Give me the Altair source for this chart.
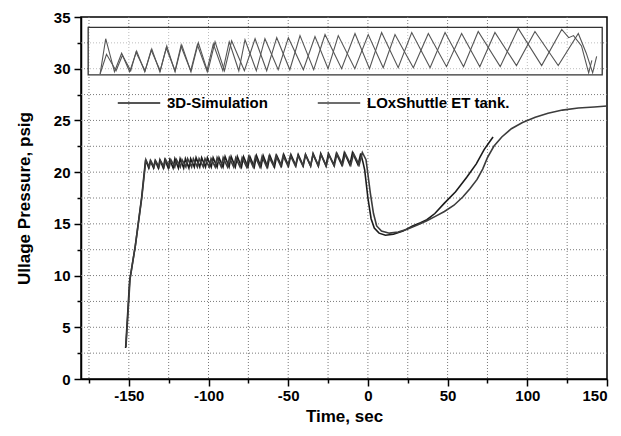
import altair as alt
import pandas as pd

# ---------------- data ----------------
series_names = ["3D-Simulation", "LOxShuttle ET tank."]

sim_t = [-152, -149.5, -146, -142, -139.5,
         -137.5, -136.5, -134.5, -133.5, -131.5, -130.5, -128.4, -127.4, -125.3, -124.3,
         -122.2, -121.1, -118.9, -117.8, -115.6, -114.5, -112.3, -111.2, -108.9, -107.8,
         -105.5, -104.3, -101.9, -100.7, -98.3, -97.1, -94.6, -93.4, -90.9, -89.6,
         -87.1, -85.8, -83.2, -81.9, -79.3, -78.0, -75.3, -74.0, -71.3, -69.9,
         -67.1, -65.7, -62.9, -61.5, -58.6, -57.2, -54.2, -52.8, -49.8, -48.3,
         -45.2, -43.7, -40.6, -39.1, -35.9, -34.4, -31.1, -29.6, -26.3, -24.8,
         -21.4, -19.8, -16.4, -14.8, -11.3, -9.7, -6.2, -4.5, -3.0, -2.0,
         0.0, 2.0, 4.0, 7.0, 11.0, 16.0, 22.0, 28.0, 33.0, 37.0, 42.0, 48.0, 55.0,
         62.0, 68.0, 73.0, 78.5]
sim_p = [3.0, 9.5, 12.8, 17.5, 21.2,
         20.4, 21.1, 20.4, 21.1, 20.4, 21.2, 20.4, 21.2, 20.4, 21.2,
         20.4, 21.3, 20.4, 21.3, 20.4, 21.3, 20.4, 21.3, 20.5, 21.4,
         20.5, 21.4, 20.5, 21.4, 20.5, 21.4, 20.5, 21.4, 20.5, 21.5,
         20.5, 21.5, 20.5, 21.5, 20.5, 21.5, 20.5, 21.5, 20.5, 21.6,
         20.5, 21.6, 20.5, 21.6, 20.5, 21.6, 20.6, 21.7, 20.6, 21.7,
         20.6, 21.7, 20.6, 21.7, 20.6, 21.8, 20.6, 21.8, 20.6, 21.8,
         20.7, 21.8, 20.7, 21.9, 20.7, 21.9, 20.7, 21.8, 20.9, 20.2,
         17.5, 15.5, 14.6, 14.1, 13.9, 14.0, 14.3, 14.8, 15.1, 15.4, 16.0, 17.0, 18.1,
         19.5, 20.8, 22.2, 23.4]

lox_t = [-151.8, -149.2, -145.8, -141.8, -139.3,
         -137.2, -136.2, -134.2, -133.2, -131.1, -130.1, -127.9, -126.9, -124.6, -123.6,
         -121.2, -120.1, -117.7, -116.6, -114.2, -113.1, -110.6, -109.5, -107.0, -105.9,
         -103.3, -102.2, -99.6, -98.4, -95.8, -94.6, -92.0, -90.8, -88.1, -86.9,
         -84.2, -82.9, -80.2, -78.9, -76.1, -74.8, -72.0, -70.6, -67.8, -66.4,
         -63.5, -62.1, -59.2, -57.7, -54.7, -53.2, -50.2, -48.6, -45.5, -43.9,
         -40.8, -39.2, -36.0, -34.4, -31.1, -29.5, -26.1, -24.5, -21.1, -19.4,
         -15.9, -14.2, -10.7, -9.0, -5.5, -3.5, -1.2, -0.5,
         1.5, 3.5, 5.5, 8.5, 13.5, 19.0, 25.0, 31.0, 37.0, 42.0, 48.0, 54.0, 59.5,
         64.0, 68.5, 72.0, 75.0, 79.0, 84.0, 90.0, 97.0, 105.0, 113.0, 122.0, 132.0,
         142.0, 150.0]
lox_p = [3.1, 9.7, 13.0, 17.6, 21.2,
         20.5, 21.1, 20.5, 21.1, 20.5, 21.1, 20.5, 21.2, 20.5, 21.2,
         20.5, 21.2, 20.5, 21.2, 20.5, 21.3, 20.5, 21.3, 20.5, 21.3,
         20.5, 21.3, 20.5, 21.3, 20.5, 21.4, 20.5, 21.4, 20.5, 21.4,
         20.5, 21.4, 20.5, 21.4, 20.5, 21.5, 20.5, 21.5, 20.5, 21.5,
         20.5, 21.5, 20.6, 21.6, 20.6, 21.6, 20.6, 21.6, 20.6, 21.6,
         20.6, 21.7, 20.6, 21.7, 20.6, 21.7, 20.6, 21.7, 20.6, 21.8,
         20.7, 21.8, 20.7, 21.8, 20.7, 21.9, 21.2, 20.4,
         18.0, 16.0, 14.8, 14.3, 14.1, 14.2, 14.5, 14.9, 15.3, 15.7, 16.2, 16.8, 17.6,
         18.4, 19.3, 20.3, 21.4, 22.5, 23.4, 24.2, 24.8, 25.3, 25.7, 26.0, 26.2,
         26.3, 26.4]

# magnified inset (drawn in the chart's own units inside the box)
ins_sim_t = [-168, -164.5, -159, -154.5, -149.5, -145.1, -140, -135.6, -130.5, -126.2,
             -121, -116.8, -111, -106.4, -100.5, -95.9, -90, -85.5, -77.5, -70.8,
             -63.5, -57.2, -49, -42.6, -34, -26.9, -16.5, -8.1, 1, 8.6,
             19, 27.5, 39, 48.4, 60, 69.2, 83, 94.3, 109, 121.6,
             126, 129, 134, 138.5, 140.5]
ins_sim_p = [29.5, 32.9, 29.7, 31.5, 29.7, 31.7, 29.7, 31.9, 29.7, 32.2,
             29.7, 32.3, 29.7, 32.5, 29.7, 32.6, 29.8, 32.7, 29.8, 32.9,
             29.8, 33.0, 29.9, 33.2, 29.9, 33.3, 30.0, 33.4, 30.0, 33.5,
             30.1, 33.5, 30.1, 33.5, 30.2, 33.6, 30.2, 33.9, 30.3, 33.8,
             33.0, 33.2, 32.2, 29.6, 30.8]
ins_lox_t = [-168, -164, -158, -154, -148.8, -145.5, -139.8, -136, -130.3, -126.5,
             -121, -117.3, -111.2, -107, -101, -97, -91, -87, -81, -77.1,
             -70, -64.6, -56.3, -49.9, -40.5, -33.2, -25, -18.6, -8.2, 0.2,
             9.6, 17, 28.5, 37.9, 49.3, 58.8, 70.2, 79.7, 93.2, 104.8,
             119.4, 132, 137, 141, 143.5]
ins_lox_p = [29.5, 31.4, 29.8, 31.3, 29.8, 31.6, 29.8, 31.8, 29.8, 32.0,
             29.8, 32.2, 29.8, 32.3, 29.8, 32.4, 29.8, 32.6, 29.8, 32.8,
             29.8, 32.9, 29.9, 33.0, 29.9, 33.1, 30.0, 33.2, 30.0, 33.3,
             30.1, 33.3, 30.1, 33.4, 30.2, 33.4, 30.2, 33.5, 30.3, 33.6,
             30.3, 33.4, 31.5, 29.6, 31.2]

inset_box_t = [-175.5, 147.0]
inset_box_p = [29.4, 34.0]

x_ticks = [-175, -150, -125, -100, -75, -50, -25, 0, 25, 50, 75, 100, 125, 150]
y_ticks = [0, 2.5, 5, 7.5, 10, 12.5, 15, 17.5, 20, 22.5, 25, 27.5, 30, 32.5, 35]

# ---------------- tables ----------------
main_df = pd.concat([
    pd.DataFrame({"t": sim_t, "p": sim_p, "series": series_names[0]}),
    pd.DataFrame({"t": lox_t, "p": lox_p, "series": series_names[1]}),
])
inset_df = pd.concat([
    pd.DataFrame({"t": ins_sim_t, "p": ins_sim_p, "series": "a"}),
    pd.DataFrame({"t": ins_lox_t, "p": ins_lox_p, "series": "b"}),
])
box_df = pd.DataFrame({"t": [inset_box_t[0]], "t2": [inset_box_t[1]],
                       "p": [inset_box_p[0]], "p2": [inset_box_p[1]]})
xgrid_df = pd.DataFrame({"t": [float(v) for v in x_ticks[:-1]]})
ygrid_df = pd.DataFrame({"p": [float(v) for v in y_ticks[1:-1]]})

FONT = "Liberation Sans"

x_axis = alt.Axis(
    values=x_ticks,
    labelExpr="datum.value % 50 === 0 ? '' + datum.value : ''",
    tickSize={"condition": {"test": "datum.value % 50 === 0", "value": 7}, "value": 4},
    tickColor="black", tickWidth=1.5,
    domainColor="black", domainWidth=1.5,
    grid=False,
    labelFont=FONT, labelFontSize=15, labelFontWeight="bold", labelColor="black",
    labelPadding=2,
    title="Time, sec", titleFont=FONT, titleFontSize=17, titleFontWeight="bold",
    titleColor="black", titlePadding=5,
)
y_axis = alt.Axis(
    values=y_ticks,
    labelExpr="datum.value % 5 === 0 ? '' + datum.value : ''",
    tickSize={"condition": {"test": "datum.value % 5 === 0", "value": 7}, "value": 4},
    tickColor="black", tickWidth=1.5,
    domainColor="black", domainWidth=1.5,
    grid=False,
    labelFont=FONT, labelFontSize=15, labelFontWeight="bold", labelColor="black",
    labelPadding=4,
    title="Ullage Pressure, psig", titleFont=FONT, titleFontSize=17, titleFontWeight="bold",
    titleColor="black", titlePadding=20,
)

xs = alt.Scale(domain=[-180, 150], nice=False, zero=False)
ys = alt.Scale(domain=[0, 35], nice=False, zero=False)

xgrid = alt.Chart(xgrid_df).mark_rule(stroke="#7a7a7a", strokeWidth=1, strokeDash=[1, 2]).encode(
    x=alt.X("t:Q", scale=xs, axis=x_axis),
)
ygrid = alt.Chart(ygrid_df).mark_rule(stroke="#7a7a7a", strokeWidth=1, strokeDash=[1, 2]).encode(
    y=alt.Y("p:Q", scale=ys, axis=y_axis),
)

main = alt.Chart(main_df).mark_line(strokeWidth=1.6).encode(
    x=alt.X("t:Q", scale=xs, axis=x_axis),
    y=alt.Y("p:Q", scale=ys, axis=y_axis),
    color=alt.Color(
        "series:N",
        scale=alt.Scale(domain=series_names, range=["#1c1c1c", "#3c3c3c"]),
        legend=alt.Legend(
            title=None, orient="none", legendX=36, legendY=64, direction="horizontal",
            symbolType="stroke", symbolSize=1800, symbolStrokeWidth=1.5,
            labelFont=FONT, labelFontSize=15, labelFontWeight="bold", labelColor="black",
            columnPadding=46, labelOffset=6,
        ),
    ),
)

box = alt.Chart(box_df).mark_rect(fill="white", fillOpacity=0.5, stroke="#333333", strokeWidth=1.3).encode(
    x=alt.X("t:Q", scale=xs, axis=x_axis), x2="t2:Q",
    y=alt.Y("p:Q", scale=ys, axis=y_axis), y2="p2:Q",
)

inset = alt.Chart(inset_df).mark_line(strokeWidth=1.1, color="#555555").encode(
    x=alt.X("t:Q", scale=xs, axis=x_axis),
    y=alt.Y("p:Q", scale=ys, axis=y_axis),
    detail="series:N",
)

chart = alt.layer(xgrid, ygrid, box, inset, main).properties(
    width=526, height=362,
    autosize=alt.AutoSizeParams(type="none"),
    padding={"left": 73, "top": 9, "right": 6, "bottom": 49},
).configure_view(stroke="black", strokeWidth=1.5)

chart.save("out.html", embed_options={"renderer": "svg", "actions": False})
